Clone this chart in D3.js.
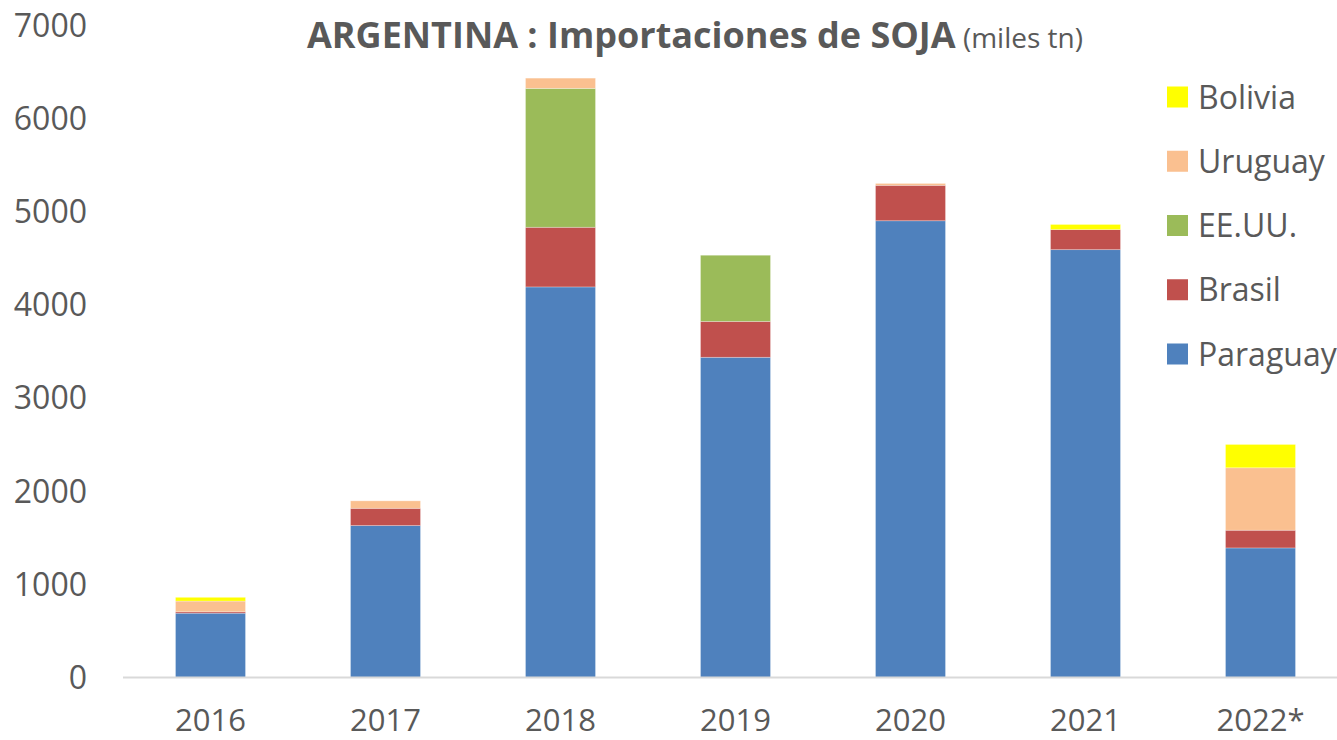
<!DOCTYPE html>
<html>
<head>
<meta charset="utf-8">
<script src="https://cdn.jsdelivr.net/npm/d3@7"></script>
<style>
  body { margin: 0; background: #fff; }
  text { font-family: "Open Sans", sans-serif; fill: #595959; }
</style>
</head>
<body>
<script>
// data (miles tn)
var years = ["2016", "2017", "2018", "2019", "2020", "2021", "2022*"];
var paraguay = [690, 1630, 4190, 3435, 4900, 4590, 1390];
var brasil   = [15, 185, 640, 385, 380, 215, 190];
var eeuu     = [0, 0, 1490, 710, 0, 0, 0];
var uruguay  = [115, 80, 110, 0, 20, 0, 670];
var bolivia  = [40, 0, 0, 0, 0, 55, 250];
var yTicks = [0, 1000, 2000, 3000, 4000, 5000, 6000, 7000];

var seriesNames = ["Paraguay", "Brasil", "EE.UU.", "Uruguay", "Bolivia"];
var seriesValues = [paraguay, brasil, eeuu, uruguay, bolivia];
var colours = ["#4f81bd", "#c0504d", "#9bbb59", "#fac090", "#ffff00"];

var width = 1337, height = 740;

var svg = d3.select("body")
    .append("svg")
    .attr("width", width)
    .attr("height", height);

// table for the stack
var table = years.map(function(y, i) {
    var row = { year: y };
    seriesNames.forEach(function(s, j) { row[s] = seriesValues[j][i]; });
    return row;
});

var stacked = d3.stack().keys(seriesNames)(table);

var x = d3.scaleBand()
    .domain(years)
    .range([123, 1348])
    .paddingInner(0.6)
    .paddingOuter(0.3);

var y = d3.scaleLinear()
    .domain([0, 7000])
    .range([677.5, 25]);

var colour = d3.scaleOrdinal().domain(seriesNames).range(colours);

// bars
svg.selectAll("g.layer")
    .data(stacked)
    .enter()
    .append("g")
        .attr("class", "layer")
        .attr("fill", function(d) { return colour(d.key); })
    .selectAll("rect")
    .data(function(d) { return d; })
    .enter()
    .append("rect")
        .attr("x", function(d) { return x(d.data.year); })
        .attr("y", function(d) { return y(d[1]); })
        .attr("width", x.bandwidth())
        .attr("height", function(d) { return Math.max(0, y(d[0]) - y(d[1])); })
        .attr("stroke", "#ffffff")
        .attr("stroke-opacity", 0.35)
        .attr("stroke-width", 0.8);

// x axis line
svg.append("line")
    .attr("x1", 123)
    .attr("x2", width)
    .attr("y1", y(0))
    .attr("y2", y(0))
    .attr("stroke", "#d9d9d9")
    .attr("stroke-width", 2);

// y tick labels
svg.selectAll("text.ytick")
    .data(yTicks)
    .enter()
    .append("text")
        .attr("class", "ytick")
        .attr("x", 87)
        .attr("y", function(d) { return y(d); })
        .attr("dy", "0.36em")
        .attr("text-anchor", "end")
        .style("font-size", "32px")
        .text(function(d) { return d; });

// x tick labels
svg.selectAll("text.xtick")
    .data(years)
    .enter()
    .append("text")
        .attr("class", "xtick")
        .attr("x", function(d) { return x(d) + x.bandwidth() / 2; })
        .attr("y", 731)
        .attr("text-anchor", "middle")
        .style("font-size", "31px")
        .text(function(d) { return d; });

// title
var title = svg.append("text")
    .attr("x", 695)
    .attr("y", 48)
    .attr("text-anchor", "middle");
title.append("tspan")
    .style("font-size", "36px")
    .style("font-weight", "bold")
    .text("ARGENTINA : Importaciones de SOJA");
title.append("tspan")
    .style("font-size", "28px")
    .text(" (miles tn)");

// legend (top to bottom: Bolivia ... Paraguay)
var legendItems = seriesNames.slice().reverse();
var legend = svg.selectAll("g.legend")
    .data(legendItems)
    .enter()
    .append("g")
        .attr("class", "legend")
        .attr("transform", function(d, i) { return "translate(1167," + (97 + i * 64.25) + ")"; });
legend.append("rect")
    .attr("x", 0)
    .attr("y", -10.5)
    .attr("width", 21)
    .attr("height", 21)
    .attr("fill", function(d) { return colour(d); });
legend.append("text")
    .attr("x", 31)
    .attr("y", 0)
    .attr("dy", "0.36em")
    .style("font-size", "32px")
    .text(function(d) { return d; });
</script>
</body>
</html>
